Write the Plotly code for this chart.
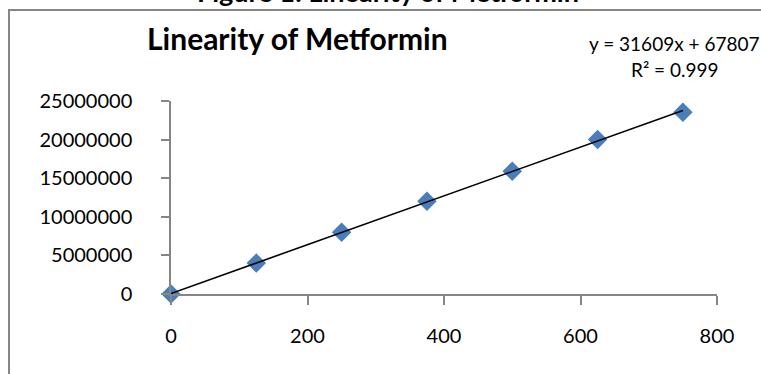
import plotly.graph_objects as go

# ---- data ----
concentration = [0, 125, 250, 375, 500, 625, 750]
peak_area = [0, 4000000, 8000000, 12000000, 15900000, 20000000, 23550000]
trend_slope = 31609
trend_intercept = 67807
r_squared = "0.999"
x_tick_vals = [0, 200, 400, 600, 800]
x_tick_text = ["0", "200", "400", "600", "800"]
y_tick_vals = [0, 5000000, 10000000, 15000000, 20000000, 25000000]
y_tick_text = ["0", "5000000", "10000000", "15000000", "20000000", "25000000"]
figure_title = "Figure 1: Linearity of Metformin"
chart_title = "Linearity of Metformin"

# ---- layout geometry (pixels) ----
W, H = 761, 374
L, R, T, B = 171, 44, 101, 80
PW, PH = W - L - R, H - T - B

def px(x):
    return (x - L) / PW

def py(y):
    return (H - B - y) / PH

FONT = "Lato"
AX = "#868686"

trend_x = [concentration[0], concentration[-1]]
trend_y = [trend_slope * v + trend_intercept for v in trend_x]

fig = go.Figure()
fig.add_trace(go.Scatter(
    x=concentration, y=peak_area, mode="markers",
    marker=dict(symbol="diamond", size=15, color="#4A7EBB",
                line=dict(width=0)),
    showlegend=False, cliponaxis=False,
))
fig.add_trace(go.Scatter(
    x=trend_x, y=trend_y, mode="lines",
    line=dict(color="black", width=1.6),
    hoverinfo="skip", showlegend=False, cliponaxis=False,
))

fig.update_layout(
    width=W, height=H,
    margin=dict(l=L, r=R, t=T, b=B, pad=0),
    paper_bgcolor="white", plot_bgcolor="white",
    font=dict(family=FONT, color="black"),
    xaxis=dict(
        range=[0, 800], tickvals=x_tick_vals, ticktext=x_tick_text,
        showgrid=False, zeroline=False,
        showline=True, linecolor=AX, linewidth=1.5,
        ticks="outside", ticklen=9, tickwidth=1.5, tickcolor=AX,
        tickfont=dict(size=20, family=FONT, color="black"),
        ticklabelstandoff=14,
    ),
    yaxis=dict(
        range=[0, 25000000], tickvals=y_tick_vals, ticktext=y_tick_text,
        showgrid=False, zeroline=False,
        showline=True, linecolor=AX, linewidth=1.5,
        ticks="outside", ticklen=8, tickwidth=1.5, tickcolor=AX,
        tickfont=dict(size=20, family=FONT, color="black"),
        ticklabelstandoff=25,
    ),
    shapes=[dict(
        type="rect", xref="paper", yref="paper",
        x0=px(9), x1=px(820), y0=py(10), y1=py(420),
        line=dict(color=AX, width=2), fillcolor="rgba(0,0,0,0)", layer="below",
    )],
    annotations=[
        dict(text="<b>" + figure_title + "</b>", xref="paper", yref="paper",
             x=px(387.5), y=py(-9), xanchor="center", yanchor="middle",
             showarrow=False, font=dict(size=27, family=FONT, color="black")),
        dict(text="<b>" + chart_title + "</b>", xref="paper", yref="paper",
             x=px(297), y=py(38), xanchor="center", yanchor="middle",
             showarrow=False, font=dict(size=30, family=FONT, color="black")),
        dict(text=f"y = {trend_slope}x + {trend_intercept}", xref="paper", yref="paper",
             x=px(674.5), y=py(43), xanchor="center", yanchor="middle",
             showarrow=False, font=dict(size=19, family=FONT, color="black")),
        dict(text=f"R² = {r_squared}", xref="paper", yref="paper",
             x=px(674.5), y=py(69), xanchor="center", yanchor="middle",
             showarrow=False, font=dict(size=19, family=FONT, color="black")),
    ],
)

fig.write_html("out.html", config={"displayModeBar": False},
               post_script="document.body.style.margin='0px';document.body.style.overflow='hidden';")
